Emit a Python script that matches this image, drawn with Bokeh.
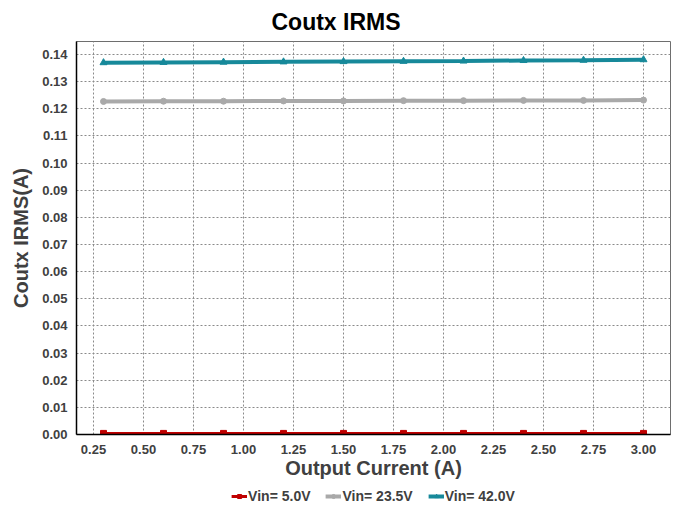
from bokeh.plotting import figure
from bokeh.layouts import column
from bokeh.models import Range1d, FixedTicker, NumeralTickFormatter, Legend, LegendItem, Title
from bokeh.embed import file_html
from bokeh.resources import INLINE

# ---- data ----
iout = [0.3, 0.6, 0.9, 1.2, 1.5, 1.8, 2.1, 2.4, 2.7, 3.0]
vin_5v0 = [0.0004, 0.0004, 0.0004, 0.0004, 0.0004, 0.0004, 0.0004, 0.0004, 0.0004, 0.0004]
vin_23v5 = [0.1227, 0.1228, 0.1228, 0.1229, 0.1229, 0.1230, 0.1230, 0.1231, 0.1231, 0.1232]
vin_42v0 = [0.1370, 0.1371, 0.1372, 0.1373, 0.1374, 0.1375, 0.1376, 0.1378, 0.1379, 0.1381]
series_names = ["Vin= 5.0V", "Vin= 23.5V", "Vin= 42.0V"]
x_ticks = [0.25, 0.5, 0.75, 1.0, 1.25, 1.5, 1.75, 2.0, 2.25, 2.5, 2.75, 3.0]
y_ticks = [0.00, 0.01, 0.02, 0.03, 0.04, 0.05, 0.06, 0.07, 0.08, 0.09, 0.10, 0.11, 0.12, 0.13, 0.14]

FONT = "Liberation Sans"

p = figure(width=None, height=None, frame_width=594, frame_height=393,
           output_backend="svg", toolbar_location=None,
           x_range=Range1d(0.165, 3.135), y_range=Range1d(0.0, 0.1448),
           min_border_left=76, min_border_right=6, min_border_top=40, min_border_bottom=0)

p.title = Title(text="Coutx IRMS", align="left", text_font=FONT, text_font_size="23px",
                text_font_style="bold", text_color="#000000", offset=195, standoff=13)

p.outline_line_color = "#6e6e6e"
p.outline_line_width = 1

# grids
p.xgrid.ticker = FixedTicker(ticks=x_ticks)
p.ygrid.ticker = FixedTicker(ticks=y_ticks)
for g in (p.xgrid, p.ygrid):
    g.grid_line_color = "#8a8a8a"
    g.grid_line_dash = "2 2"
    g.grid_line_width = 1

# axes
p.xaxis.ticker = FixedTicker(ticks=x_ticks)
p.yaxis.ticker = FixedTicker(ticks=y_ticks)
p.xaxis.formatter = NumeralTickFormatter(format="0.00")
p.yaxis.formatter = NumeralTickFormatter(format="0.00")
for ax in (p.xaxis, p.yaxis):
    ax.axis_line_color = "#000000"
    ax.axis_line_width = 1.5
    ax.major_tick_line_color = None
    ax.minor_tick_line_color = None
    ax.major_tick_out = 0
    ax.major_tick_in = 0
    ax.major_label_text_font = FONT
    ax.major_label_text_font_size = "13px"
    ax.major_label_text_font_style = "bold"
    ax.major_label_text_color = "#404040"
    ax.axis_label_text_font = FONT
    ax.axis_label_text_font_size = "20px"
    ax.axis_label_text_font_style = "bold"
    ax.axis_label_text_color = "#404040"
p.xaxis.axis_label = "Output Current (A)"
p.yaxis.axis_label = "Coutx IRMS(A)"
p.xaxis.major_label_standoff = 10
p.xaxis.axis_label_standoff = 0
p.yaxis.major_label_standoff = 9
p.yaxis.axis_label_standoff = 7

# series
colors = ["#C00000", "#A9A9A9", "#17899A"]
widths = [3, 4, 4]
markers = ["square", "circle", "triangle"]
sizes = [6, 6, 7]
series = [vin_5v0, vin_23v5, vin_42v0]
for ys, c, w, m, s in zip(series, colors, widths, markers, sizes):
    p.line(iout, ys, line_color=c, line_width=w)
    p.scatter(iout, ys, marker=m, size=s, fill_color=c, line_color=c)

# legend strip below the chart (own small figure, same series)
pl = figure(width=676, height=30, output_backend="svg", toolbar_location=None,
            x_axis_location=None, y_axis_location=None,
            x_range=Range1d(10, 11), y_range=Range1d(10, 11),
            min_border_left=0, min_border_right=0, min_border_top=0, min_border_bottom=0)
pl.grid.visible = False
pl.outline_line_color = None
items = []
for ys, name, c, w, m, s in zip(series, series_names, colors, widths, markers, sizes):
    ln = pl.line(iout, ys, line_color=c, line_width=w)
    sc = pl.scatter(iout, ys, marker=m, size=s, fill_color=c, line_color=c)
    items.append(LegendItem(label=name, renderers=[ln, sc]))

legend = Legend(items=items, orientation="horizontal", location="center",
                label_text_font=FONT, label_text_font_size="14px", label_text_font_style="bold",
                label_text_color="#404040", glyph_width=16, glyph_height=10, label_standoff=1,
                spacing=15, padding=0, margin=0, border_line_color=None,
                background_fill_alpha=0, label_height=15)
pl.add_layout(legend, "center")

open("out.html", "w").write(file_html(column(p, pl, spacing=0), INLINE))
